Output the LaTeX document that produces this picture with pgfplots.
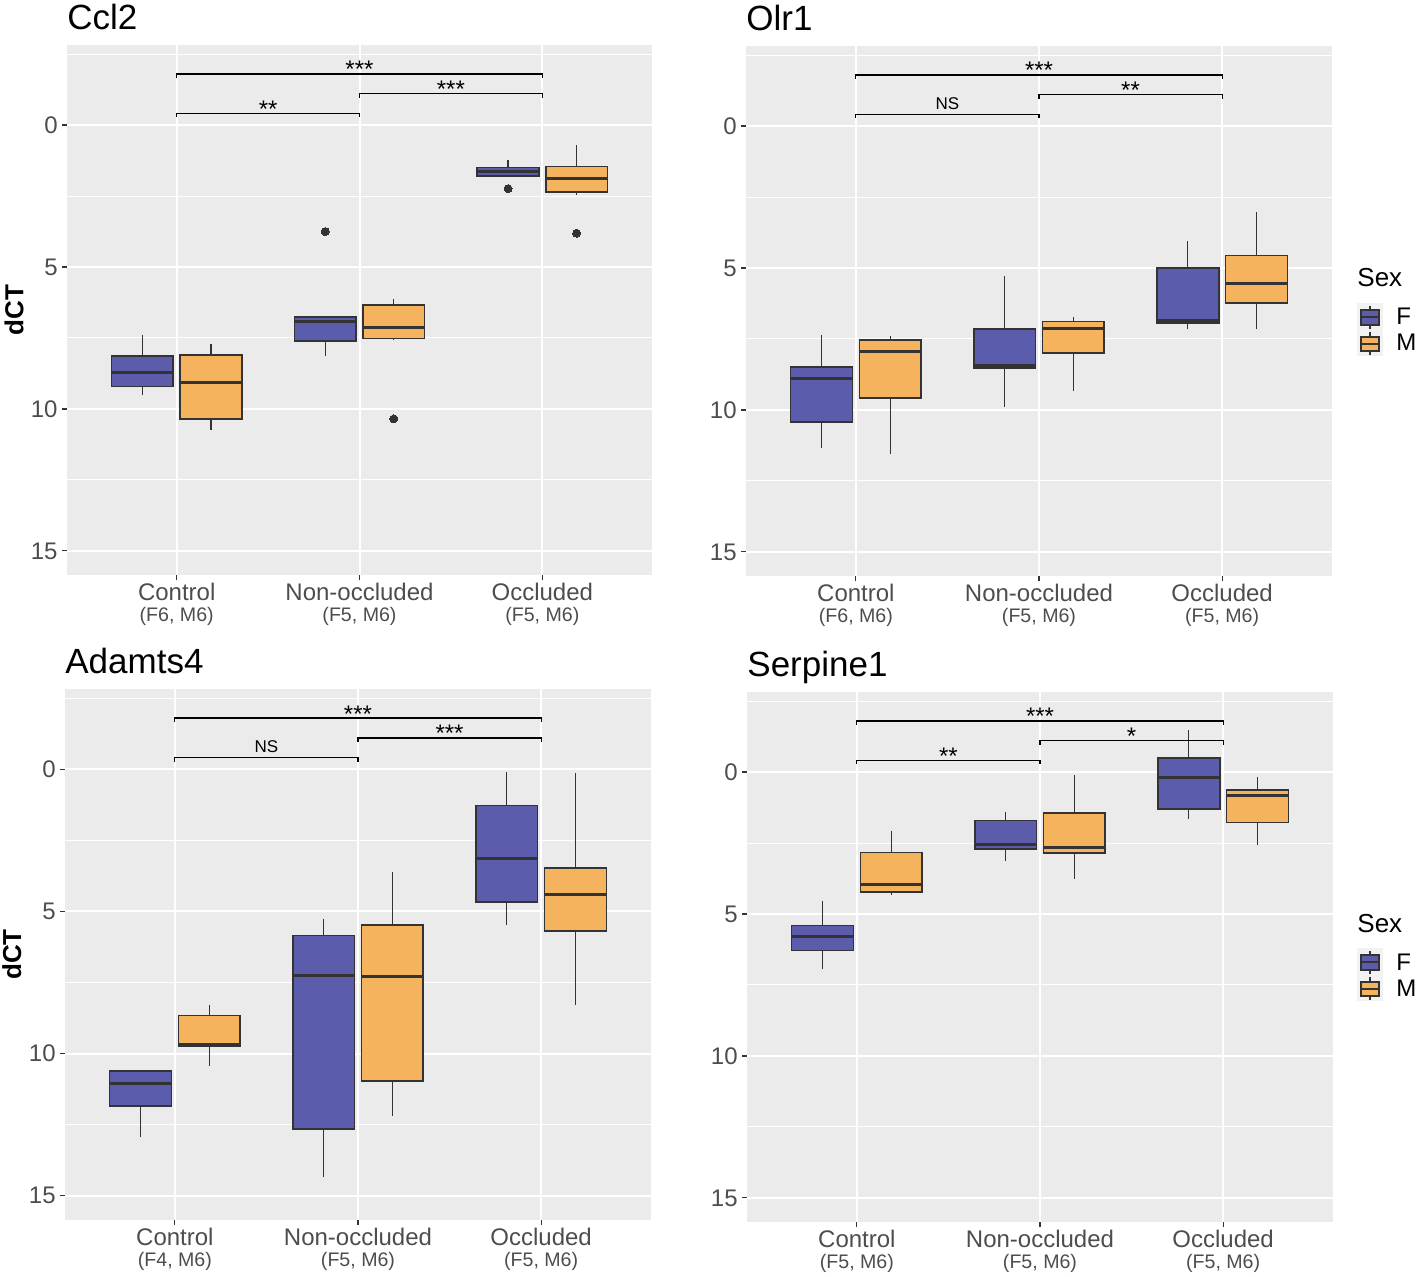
\documentclass[border=0pt]{standalone}
\usepackage{fontspec}
\setmainfont{Liberation Sans}
\usepackage{pgfplots}
\pgfplotsset{compat=1.18}
\usepgfplotslibrary{statistics}

\definecolor{ggbg}{HTML}{EBEBEB}
\definecolor{ggF}{HTML}{5C5CAD}
\definecolor{ggM}{HTML}{F6B35D}
\definecolor{ggdark}{HTML}{333333}
\definecolor{gglab}{HTML}{4D4D4D}
\definecolor{keybg}{HTML}{F2F2F2}

\pgfplotsset{
  panel/.style={
    scale only axis, width=293pt, height=265pt,
    xmin=0.4, xmax=3.6, ymin=-2.82, ymax=15.85, y dir=reverse,
    xtick={1,2,3}, ytick={0,5,10,15}, minor ytick={-2.5,2.5,7.5,12.5},
    xmajorgrids, ymajorgrids, yminorgrids,
    major grid style={white, line width=1pt},
    minor grid style={white, line width=0.5pt},
    axis background/.style={fill=ggbg},
    axis line style={draw=none},
    tick align=outside, tick pos=left,
    major tick length=2.5pt, minor tick length=0pt,
    tick style={ggdark, line width=0.6pt},
    /pgf/number format/assume math mode=true,
    ticklabel style={font=\fontsize{12}{14}\selectfont, text=gglab},
    yticklabel style={inner sep=2pt},
    xticklabel style={align=center, yshift=2pt, font=\fontsize{12}{10.5}\selectfont},
    title style={at={(axis description cs:0,1)}, anchor=base west, yshift=2pt,
      font=\fontsize{17.5}{20}\selectfont, inner sep=0pt},
    ylabel style={at={(axis description cs:-0.0906,0.5)}, anchor=center,
      font=\bfseries\fontsize{13}{15}\selectfont},
  },
  bx/.style={boxplot/draw direction=y, boxplot/box extend=0.3375,
    boxplot/whisker extend=0,
    boxplot/every median/.style={line width=1.5pt},
    boxplot/every whisker/.style={line width=0.6pt},
    draw=ggdark, line width=0.8pt, mark=*, mark size=2pt,
    mark options={fill=ggdark, draw=ggdark, line width=0pt}},
  bF/.style={bx, fill=ggF},
  bM/.style={bx, fill=ggM},
  sig/.style={black, line width=0.6pt, no marks},
}
\tikzset{
  sigtxt/.style={anchor=base, yshift=-2pt, inner sep=0pt, font=\fontsize{12}{12}\selectfont},
  nstxt/.style={anchor=base, yshift=2.5pt, inner sep=0pt, font=\fontsize{8.5}{9}\selectfont},
}

\newcommand\xl[2]{#1\\\fontsize{9.8}{10.5}\selectfont #2}

% legend "Sex", drawn once per row
\newcommand\sexlegend[1]{%
\begin{scope}[yshift=#1]
  \node[anchor=base west, inner sep=0pt, font=\fontsize{13}{15}\selectfont] at (678.5pt,494.5pt) {Sex};
  \fill[keybg] (678.5pt,460pt) rectangle (691.5pt,486.5pt);
  \draw[ggdark, line width=0.6pt] (685pt,485pt) -- (685pt,473.5pt);
  \draw[ggdark, fill=ggF, line width=0.7pt] (680.5pt,475.5pt) rectangle (689.5pt,483pt);
  \draw[ggdark, line width=1.2pt] (680.5pt,479.5pt) -- (689.5pt,479.5pt);
  \draw[ggdark, line width=0.6pt] (685pt,472pt) -- (685pt,460.5pt);
  \draw[ggdark, fill=ggM, line width=0.7pt] (680.5pt,462.5pt) rectangle (689.5pt,469.5pt);
  \draw[ggdark, line width=1.2pt] (680.5pt,466pt) -- (689.5pt,466pt);
  \node[anchor=base west, inner sep=0pt, font=\fontsize{12}{14}\selectfont] at (698pt,475.5pt) {F};
  \node[anchor=base west, inner sep=0pt, font=\fontsize{12}{14}\selectfont] at (698pt,462.5pt) {M};
\end{scope}}

\begin{document}
\begin{tikzpicture}
\path[use as bounding box] (0,0) rectangle (709pt,638pt);

% ---------------- Ccl2
\begin{axis}[panel, at={(33.5pt,350.5pt)}, anchor=south west, width=292.5pt,
  title={Ccl2}, ylabel={dCT},
  xticklabels={{\xl{Control}{(F6, M6)}},{\xl{Non-occluded}{(F5, M6)}},{\xl{Occluded}{(F5, M6)}}}]
\addplot[bF, boxplot prepared={draw position=0.8125, lower whisker=7.40, lower quartile=8.14, median=8.71, upper quartile=9.21, upper whisker=9.52}] coordinates {};
\addplot[bM, boxplot prepared={draw position=1.1875, lower whisker=7.72, lower quartile=8.10, median=9.06, upper quartile=10.36, upper whisker=10.75}] coordinates {};
\addplot[bF, boxplot prepared={draw position=1.8125, lower whisker=6.76, lower quartile=6.76, median=6.91, upper quartile=7.61, upper whisker=8.15}] table[row sep=\\, y index=0] {y\\ 3.75\\};
\addplot[bM, boxplot prepared={draw position=2.1875, lower whisker=6.14, lower quartile=6.34, median=7.14, upper quartile=7.52, upper whisker=7.56}] table[row sep=\\, y index=0] {y\\ 10.35\\};
\addplot[bF, boxplot prepared={draw position=2.8125, lower whisker=1.22, lower quartile=1.50, median=1.62, upper quartile=1.79, upper whisker=1.79}] table[row sep=\\, y index=0] {y\\ 2.24\\};
\addplot[bM, boxplot prepared={draw position=3.1875, lower whisker=0.70, lower quartile=1.46, median=1.87, upper quartile=2.35, upper whisker=2.47}] table[row sep=\\, y index=0] {y\\ 3.81\\};
\addplot[sig] coordinates {(1,-0.27) (1,-0.40) (2,-0.40) (2,-0.27)};
\addplot[sig] coordinates {(2,-0.97) (2,-1.10) (3,-1.10) (3,-0.97)};
\addplot[sig] coordinates {(1,-1.67) (1,-1.80) (3,-1.80) (3,-1.67)};
\node[sigtxt] at (axis cs:1.5,-0.40) {**};
\node[sigtxt] at (axis cs:2.5,-1.10) {***};
\node[sigtxt] at (axis cs:2,-1.80) {***};
\end{axis}

% ---------------- Olr1
\begin{axis}[panel, at={(373pt,350pt)}, anchor=south west,
  title={Olr1},
  xticklabels={{\xl{Control}{(F6, M6)}},{\xl{Non-occluded}{(F5, M6)}},{\xl{Occluded}{(F5, M6)}}}]
\addplot[bF, boxplot prepared={draw position=0.8125, lower whisker=7.36, lower quartile=8.49, median=8.88, upper quartile=10.42, upper whisker=11.35}] coordinates {};
\addplot[bM, boxplot prepared={draw position=1.1875, lower whisker=7.40, lower quartile=7.53, median=7.95, upper quartile=9.57, upper whisker=11.56}] coordinates {};
\addplot[bF, boxplot prepared={draw position=1.8125, lower whisker=5.27, lower quartile=7.14, median=8.45, upper quartile=8.52, upper whisker=9.89}] coordinates {};
\addplot[bM, boxplot prepared={draw position=2.1875, lower whisker=6.74, lower quartile=6.89, median=7.12, upper quartile=7.99, upper whisker=9.34}] coordinates {};
\addplot[bF, boxplot prepared={draw position=2.8125, lower whisker=4.05, lower quartile=4.99, median=6.86, upper quartile=6.94, upper whisker=7.14}] coordinates {};
\addplot[bM, boxplot prepared={draw position=3.1875, lower whisker=3.04, lower quartile=4.56, median=5.54, upper quartile=6.24, upper whisker=7.14}] coordinates {};
\addplot[sig] coordinates {(1,-0.27) (1,-0.40) (2,-0.40) (2,-0.27)};
\addplot[sig] coordinates {(2,-0.97) (2,-1.10) (3,-1.10) (3,-0.97)};
\addplot[sig] coordinates {(1,-1.67) (1,-1.80) (3,-1.80) (3,-1.67)};
\node[nstxt] at (axis cs:1.5,-0.40) {NS};
\node[sigtxt] at (axis cs:2.5,-1.10) {**};
\node[sigtxt] at (axis cs:2,-1.80) {***};
\end{axis}

% ---------------- Adamts4
\begin{axis}[panel, at={(32.5pt,28pt)}, anchor=south west, height=265.5pt,
  title={Adamts4}, ylabel={dCT},
  xticklabels={{\xl{Control}{(F4, M6)}},{\xl{Non-occluded}{(F5, M6)}},{\xl{Occluded}{(F5, M6)}}}]
\addplot[bF, boxplot prepared={draw position=0.8125, lower whisker=10.57, lower quartile=10.61, median=11.05, upper quartile=11.85, upper whisker=12.93}] coordinates {};
\addplot[bM, boxplot prepared={draw position=1.1875, lower whisker=8.30, lower quartile=8.66, median=9.67, upper quartile=9.74, upper whisker=10.43}] coordinates {};
\addplot[bF, boxplot prepared={draw position=1.8125, lower whisker=5.26, lower quartile=5.84, median=7.24, upper quartile=12.66, upper whisker=14.32}] coordinates {};
\addplot[bM, boxplot prepared={draw position=2.1875, lower whisker=3.62, lower quartile=5.47, median=7.29, upper quartile=10.97, upper whisker=12.21}] coordinates {};
\addplot[bF, boxplot prepared={draw position=2.8125, lower whisker=0.09, lower quartile=1.28, median=3.15, upper quartile=4.66, upper whisker=5.46}] coordinates {};
\addplot[bM, boxplot prepared={draw position=3.1875, lower whisker=0.14, lower quartile=3.48, median=4.42, upper quartile=5.68, upper whisker=8.29}] coordinates {};
\addplot[sig] coordinates {(1,-0.27) (1,-0.40) (2,-0.40) (2,-0.27)};
\addplot[sig] coordinates {(2,-0.97) (2,-1.10) (3,-1.10) (3,-0.97)};
\addplot[sig] coordinates {(1,-1.67) (1,-1.80) (3,-1.80) (3,-1.67)};
\node[nstxt] at (axis cs:1.5,-0.40) {NS};
\node[sigtxt] at (axis cs:2.5,-1.10) {***};
\node[sigtxt] at (axis cs:2,-1.80) {***};
\end{axis}

% ---------------- Serpine1
\begin{axis}[panel, at={(373.5pt,27pt)}, anchor=south west,
  title={Serpine1},
  xticklabels={{\xl{Control}{(F5, M6)}},{\xl{Non-occluded}{(F5, M6)}},{\xl{Occluded}{(F5, M6)}}}]
\addplot[bF, boxplot prepared={draw position=0.8125, lower whisker=4.53, lower quartile=5.40, median=5.78, upper quartile=6.28, upper whisker=6.95}] coordinates {};
\addplot[bM, boxplot prepared={draw position=1.1875, lower whisker=2.07, lower quartile=2.83, median=3.96, upper quartile=4.22, upper whisker=4.33}] coordinates {};
\addplot[bF, boxplot prepared={draw position=1.8125, lower whisker=1.40, lower quartile=1.70, median=2.54, upper quartile=2.71, upper whisker=3.15}] coordinates {};
\addplot[bM, boxplot prepared={draw position=2.1875, lower whisker=0.10, lower quartile=1.44, median=2.66, upper quartile=2.85, upper whisker=3.77}] coordinates {};
\addplot[bF, boxplot prepared={draw position=2.8125, lower whisker=-1.48, lower quartile=-0.50, median=0.20, upper quartile=1.31, upper whisker=1.64}] coordinates {};
\addplot[bM, boxplot prepared={draw position=3.1875, lower whisker=0.19, lower quartile=0.64, median=0.84, upper quartile=1.78, upper whisker=2.56}] coordinates {};
\addplot[sig] coordinates {(1,-0.27) (1,-0.40) (2,-0.40) (2,-0.27)};
\addplot[sig] coordinates {(2,-0.97) (2,-1.10) (3,-1.10) (3,-0.97)};
\addplot[sig] coordinates {(1,-1.67) (1,-1.80) (3,-1.80) (3,-1.67)};
\node[sigtxt] at (axis cs:1.5,-0.40) {**};
\node[sigtxt] at (axis cs:2.5,-1.10) {*};
\node[sigtxt] at (axis cs:2,-1.80) {***};
\end{axis}

\sexlegend{0pt}
\sexlegend{-322.5pt}
\end{tikzpicture}
\end{document}
